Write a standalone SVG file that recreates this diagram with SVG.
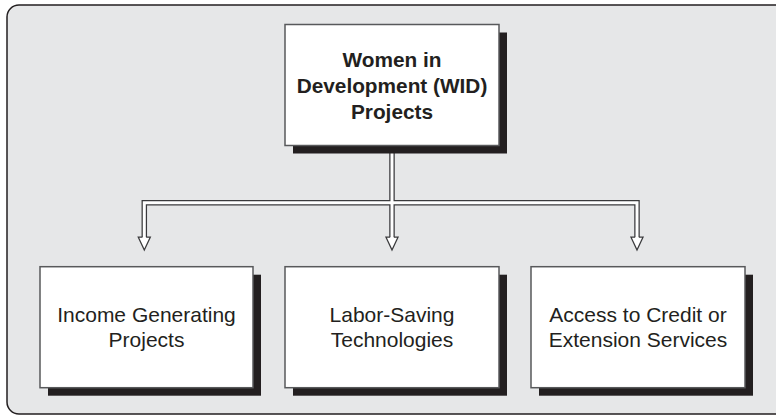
<svg xmlns="http://www.w3.org/2000/svg" width="776" height="416" viewBox="0 0 776 416">
  <defs>
    <style>
      .frame { fill: #e6e7e8; stroke: #231f20; stroke-width: 1.5; }
      .shadow { fill: #231f20; }
      .box { fill: #ffffff; stroke: #58595b; stroke-width: 1.5; }
      .t { font-family: "Liberation Sans", Arial, sans-serif; fill: #231f20; text-anchor: middle; }
      .tb { font-size: 20.8px; font-weight: bold; }
      .tr { font-size: 21px; }
      .wireOut { fill: none; stroke: #3a3a3c; stroke-width: 5.5; stroke-linejoin: miter; }
      .wireIn { fill: none; stroke: #ffffff; stroke-width: 3; stroke-linejoin: miter; }
      .headFill { fill: #ffffff; stroke: none; }
      .headLine { fill: none; stroke: #3a3a3c; stroke-width: 1.3; stroke-linejoin: miter; }
    </style>
  </defs>

  <rect class="frame" x="7" y="5" width="785" height="409" rx="12" ry="12"/>

  <g id="connectors">
    <path class="wireOut" d="M144.3 237.5 V202.8 H637 V237.5 M392 146 V237.5"/>
    <path class="wireIn" d="M144.3 238.5 V202.8 H637 V238.5 M392 146 V238.5"/>
    <g id="arrow-left">
      <polygon class="headFill" points="138.3,237.2 150.3,237.2 144.3,250"/>
      <path class="headLine" d="M142.4 237.2 H138.3 L144.3 250 L150.3 237.2 H146.2"/>
    </g>
    <g id="arrow-mid">
      <polygon class="headFill" points="386,237.2 398,237.2 392,250"/>
      <path class="headLine" d="M390.1 237.2 H386 L392 250 L398 237.2 H393.9"/>
    </g>
    <g id="arrow-right">
      <polygon class="headFill" points="631,237.2 643,237.2 637,250"/>
      <path class="headLine" d="M635.1 237.2 H631 L637 250 L643 237.2 H638.9"/>
    </g>
  </g>

  <g id="node-wid">
    <rect class="shadow" x="293" y="32.5" width="214" height="121"/>
    <rect class="box" x="285" y="24.5" width="214" height="121"/>
    <text class="t tb" x="392" y="66.7">Women in</text>
    <text class="t tb" x="392" y="92.7">Development (WID)</text>
    <text class="t tb" x="392" y="118.7">Projects</text>
  </g>

  <g id="node-income">
    <rect class="shadow" x="48" y="274.7" width="213" height="121"/>
    <rect class="box" x="40" y="266.7" width="213" height="121"/>
    <text class="t tr" x="146.5" y="321.5">Income Generating</text>
    <text class="t tr" x="146.5" y="346.7">Projects</text>
  </g>

  <g id="node-labor">
    <rect class="shadow" x="293" y="274.7" width="214" height="121"/>
    <rect class="box" x="285" y="266.7" width="214" height="121"/>
    <text class="t tr" x="392" y="321.5">Labor-Saving</text>
    <text class="t tr" x="392" y="346.7">Technologies</text>
  </g>

  <g id="node-access">
    <rect class="shadow" x="539" y="274.7" width="214" height="121"/>
    <rect class="box" x="531" y="266.7" width="214" height="121"/>
    <text class="t tr" x="638" y="321.5">Access to Credit or</text>
    <text class="t tr" x="638" y="346.7">Extension Services</text>
  </g>
</svg>
